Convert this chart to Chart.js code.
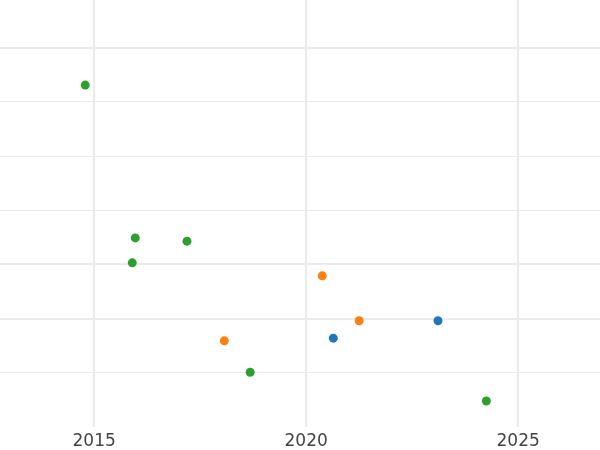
<!DOCTYPE html>
<html lang="en">
<head>
    <meta charset="UTF-8">
    <script src="https://cdn.jsdelivr.net/npm/chart.js"></script>
    <title>Scatter</title>
    <style>
        body { margin: 0; background: #fff; }
    </style>
</head>
<body>
    <canvas id="chart" width="600" height="450"></canvas>
<script>
    // years and values
    const blueX = [2020.64, 2023.11];
    const blueY = [1.64, 1.96];
    const orangeX = [2018.07, 2020.38, 2021.25];
    const orangeY = [1.59, 2.79, 1.96];
    const greenX = [2014.79, 2015.90, 2015.97, 2017.19, 2018.68, 2024.25];
    const greenY = [6.31, 3.03, 3.49, 3.43, 1.01, 0.48];

    const xTicks = [2015, 2020, 2025];
    const yTicks = [1, 2, 3, 4, 5, 6, 7];
    const thickY = [2, 3, 7];

    function pts(xs, ys) {
        return xs.map((x, i) => ({x: x, y: ys[i]}));
    }

    function ds(xs, ys, color) {
        return {data: pts(xs, ys), backgroundColor: color, borderColor: color, pointRadius: 4.5, pointHoverRadius: 4.5, borderWidth: 0};
    }

    new Chart(document.getElementById('chart'), {
        type: 'scatter',
        data: {
            datasets: [
                ds(blueX, blueY, '#1f77b4'),
                ds(orangeX, orangeY, '#ff7f0e'),
                ds(greenX, greenY, '#2ca02c')
            ]
        },
        options: {
            responsive: false,
            animation: false,
            layout: {padding: 0, autoPadding: false},
            plugins: {legend: {display: false}, tooltip: {enabled: false}},
            scales: {
                x: {
                    type: 'linear',
                    min: 2012.78,
                    max: 2026.93,
                    border: {display: false},
                    grid: {color: '#ebebeb', lineWidth: 2, drawTicks: false},
                    afterBuildTicks: s => { s.ticks = xTicks.map(v => ({value: v})); },
                    afterFit: s => { s.height = 23; },
                    ticks: {
                        padding: 4,
                        color: '#444',
                        font: {family: 'DejaVu Sans', size: 17},
                        maxRotation: 0,
                        callback: v => String(v)
                    }
                },
                y: {
                    type: 'linear',
                    min: 0,
                    max: 7.88,
                    border: {display: false},
                    grid: {
                        color: '#ebebeb',
                        drawTicks: false,
                        lineWidth: c => thickY.includes(c.tick.value) ? 2 : 1
                    },
                    afterBuildTicks: s => { s.ticks = yTicks.map(v => ({value: v})); },
                    afterFit: s => { s.width = 0; },
                    ticks: {display: false}
                }
            }
        }
    });
</script>
</body>
</html>
